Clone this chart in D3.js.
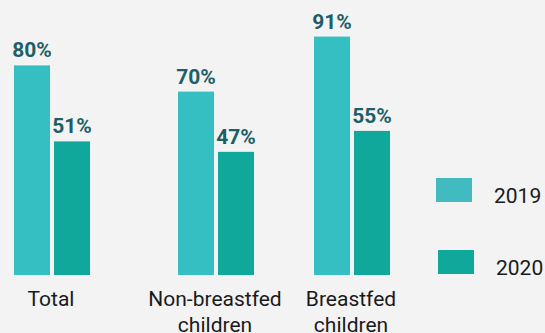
<!DOCTYPE html>
<meta charset="utf-8" />
<title>Bar chart</title>
<style>
  body { margin: 0; background: #f3f3f3; }
  svg { display: block; background: #f3f3f3; }
  text { font-family: Roboto, sans-serif; }
  .value { font-weight: 700; font-size: 21px; fill: #1d5f66; }
  .cat { font-size: 21px; fill: #1a1a1a; }
  .legend text { font-size: 21px; fill: #1a1a1a; }
</style>
<body>
<svg width="545" height="333"></svg>
<script src="https://d3js.org/d3.v7.min.js"></script>
<script>
const width = 545, height = 333;
const svg = d3.select("svg");

const categories = ["Total", "Non-breastfed children", "Breastfed children"];
const years = ["2019", "2020"];
const values2019 = [80, 70, 91];
const values2020 = [51, 47, 55];
const barColors = ["#35bfc2", "#10a89a"];
const legendColors = ["#42bbc0", "#10a89a"];

const data = categories.map((c, i) => ({
  cat: c,
  vals: [
    { year: "2019", v: values2019[i] },
    { year: "2020", v: values2020[i] }
  ]
}));

// group left edges (uneven spacing in the original)
const x0 = d3.scaleOrdinal().domain(categories).range([14, 178, 314]);
const x1 = d3.scaleBand().domain(years).range([0, 76]).paddingInner(0.1);
const y = d3.scaleLinear().domain([0, 100]).range([275, 13]);
const color = d3.scaleOrdinal().domain(years).range(barColors);

const groups = svg.append("g").selectAll("g")
  .data(data).join("g")
  .attr("transform", d => `translate(${x0(d.cat)},0)`);

groups.selectAll("rect")
  .data(d => d.vals).join("rect")
  .attr("x", d => x1(d.year))
  .attr("y", d => y(d.v))
  .attr("width", x1.bandwidth())
  .attr("height", d => y(0) - y(d.v))
  .attr("fill", d => color(d.year));

groups.selectAll("text.value")
  .data(d => d.vals).join("text")
  .attr("class", "value")
  .attr("x", d => x1(d.year) + x1.bandwidth() / 2)
  .attr("y", d => y(d.v) - 8)
  .attr("text-anchor", "middle")
  .text(d => d.v + "%");

// category labels, wrapped on the space before "children"
groups.append("text")
  .attr("class", "cat")
  .attr("text-anchor", "middle")
  .attr("y", 306)
  .selectAll("tspan")
  .data(d => {
    const m = d.cat.match(/^(.*) (children)$/);
    return m ? [m[1], m[2]] : [d.cat];
  })
  .join("tspan")
  .attr("x", 37)
  .attr("dy", (d, i) => i ? 26 : 0)
  .text(d => d);

// legend
const ly = d3.scaleBand().domain(years).range([178, 274]).paddingInner(0.667);
const legend = svg.append("g").attr("class", "legend");
legend.selectAll("rect")
  .data(years).join("rect")
  .attr("x", (d, i) => 436 + i * 2)
  .attr("y", d => ly(d))
  .attr("width", 36)
  .attr("height", ly.bandwidth())
  .attr("fill", (d, i) => legendColors[i]);
legend.selectAll("text")
  .data(years).join("text")
  .attr("x", (d, i) => 494 + i * 2)
  .attr("y", d => ly(d) + 25)
  .text(d => d);
</script>
</body>
